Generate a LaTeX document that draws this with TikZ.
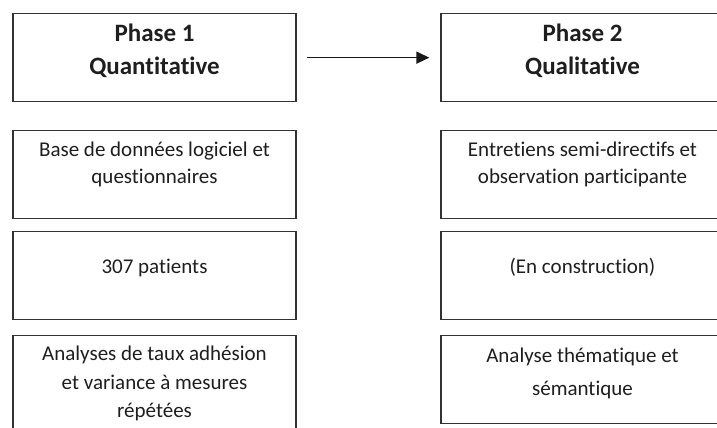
\documentclass[tikz,border=0pt]{standalone}
\usepackage{fontspec}
\setmainfont{Carlito}[Ligatures={NoCommon}]
\usepackage{tikz}
\usetikzlibrary{arrows.meta,positioning}
\definecolor{boxline}{RGB}{50,50,50}
\definecolor{boxtext}{RGB}{30,30,30}

\begin{document}
\begin{tikzpicture}[x=1pt, y=-1pt,
    cell/.style={draw=boxline, line width=1.3pt, minimum width=283pt, minimum height=88pt, inner sep=0pt, anchor=north},
    celltext/.style={text=boxtext, align=center, inner sep=0pt, font=\fontsize{21}{27}\selectfont, execute at begin node=\strut},
    headtext/.style={celltext, font=\bfseries\fontsize{25}{33}\selectfont}]
    % Frame
    \useasboundingbox (0,0) rectangle (717,428);
    \clip (0,0) rectangle (717,428);

    % Phase 1 column
    \node[cell] (phase1) at (154.5,13) {};
    \node[cell] (qdata) at (154.5,130) {};
    \node[cell] (qsample) at (154.5,231) {};
    \node[cell, minimum height=100pt] (qanalysis) at (154.5,335) {};

    % Phase 2 column
    \node[cell] (phase2) at (582.5,13) {};
    \node[cell] (ldata) at (582.5,130) {};
    \node[cell] (lsample) at (582.5,231) {};
    \node[cell] (lanalysis) at (582.5,335) {};

    % Texts
    \node[headtext, below=11pt of phase1.north] (phase1txt) {Phase 1\\Quantitative};
    \node[celltext, below=12pt of qdata.north] (qdatatxt) {Base de données logiciel et\\questionnaires};
    \node[celltext, below=23pt of qsample.north] (qsampletxt) {307 patients};
    \node[celltext, below=11pt of qanalysis.north, font=\fontsize{21}{28.5}\selectfont] (qanalysistxt) {Analyses de taux adhésion\\et variance à mesures\\répétées};

    \node[headtext, below=11pt of phase2.north] (phase2txt) {Phase 2\\Qualitative};
    \node[celltext, below=12pt of ldata.north] (ldatatxt) {Entretiens semi-directifs et\\observation participante};
    \node[celltext, below=23pt of lsample.north] (lsampletxt) {(En construction)};
    \node[celltext, below=13pt of lanalysis.north, font=\fontsize{21}{33}\selectfont] (lanalysistxt) {Analyse thématique et\\sémantique};

    % Sequence
    \draw[line width=1.4pt, draw=black!90, -{Triangle[length=13pt,width=12pt]}, shorten <=10pt, shorten >=11pt] (phase1.east) -- (phase2.west);
\end{tikzpicture}
\end{document}
